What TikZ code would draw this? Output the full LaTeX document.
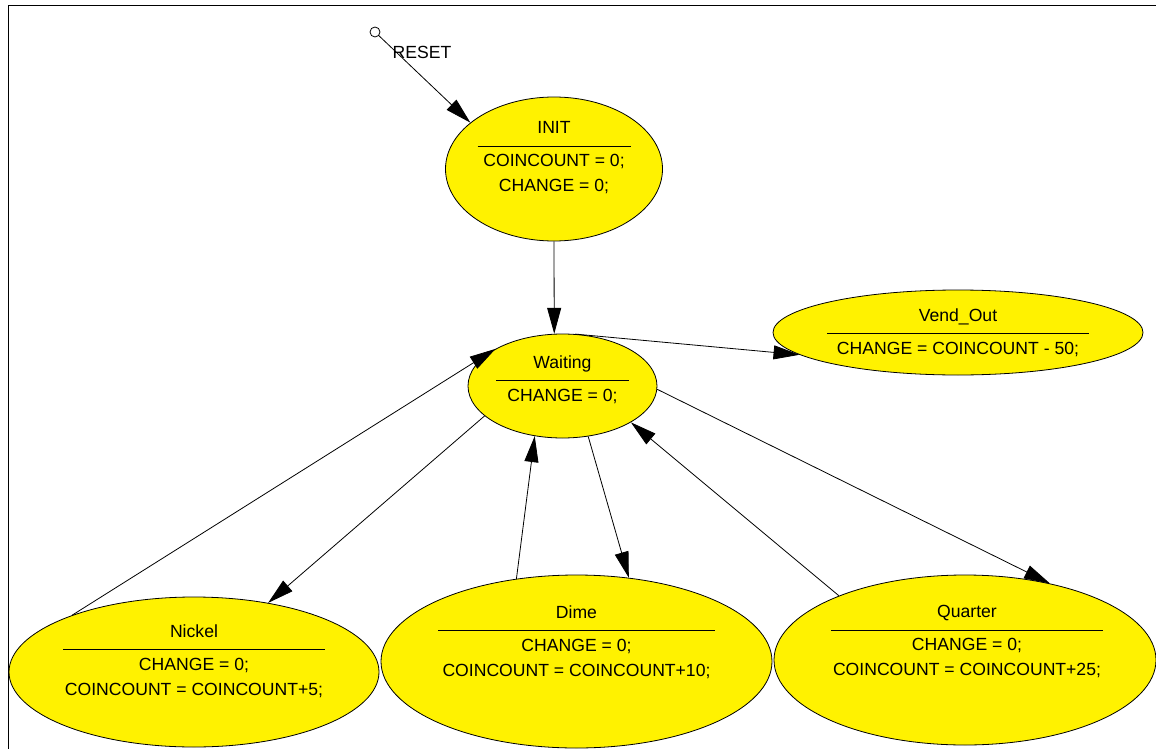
\documentclass[tikz,border=0pt]{standalone}
\usepackage{fontspec}
\setmainfont{Liberation Sans}
\usetikzlibrary{shapes.geometric,arrows.meta}

\tikzset{
  state/.style={ellipse, draw, thin, fill=yellow, inner sep=0pt},
  stext/.style={anchor=north, align=center, inner sep=0pt, font=\fontsize{8.8}{12.5}\selectfont},
  trans/.style={-{Triangle[length=13pt,width=7pt]}, thin}
}
\newcommand{\hsep}[1]{\rule{#1}{0.4pt}}

\begin{document}
\begin{tikzpicture}[x=0.5pt, y=-0.5pt]
  \useasboundingbox (0,0) rectangle (1156,749);
  % frame
  \draw[line width=0.9pt] (8.5,749) -- (8.5,5.5) -- (1156,5.5);
  % states
  \node[state, minimum width=108.5pt, minimum height=72pt] (init) at (554,169) {};
  \node[state, minimum width=94.5pt, minimum height=52pt] (waiting) at (562.5,386) {};
  \node[state, minimum width=185pt, minimum height=42.5pt] (vend) at (958,332.5) {};
  \node[state, minimum width=185pt, minimum height=75pt] (nickel) at (194,672) {};
  \node[state, minimum width=195.5pt, minimum height=86.5pt] (dime) at (576.5,661.5) {};
  \node[state, minimum width=191pt, minimum height=85pt] (quarter) at (965,660) {};
  % state texts
  \node[stext] (init-txt) at (554,121) {INIT\\[-6pt]\hsep{76.5pt}\\[-2.5pt]COINCOUNT = 0;\\CHANGE = 0;};
  \node[stext] (waiting-txt) at (562.5,355) {Waiting\\[-6pt]\hsep{66.5pt}\\[-2.5pt]CHANGE = 0;};
  \node[stext] (vend-txt) at (958,308) {Vend\_Out\\[-6pt]\hsep{131pt}\\[-2.5pt]CHANGE = COINCOUNT - 50;};
  \node[stext] (nickel-txt) at (194,624) {Nickel\\[-6pt]\hsep{131pt}\\[-2.5pt]CHANGE = 0;\\COINCOUNT = COINCOUNT+5;};
  \node[stext] (dime-txt) at (576.5,605) {Dime\\[-6pt]\hsep{138.5pt}\\[-2.5pt]CHANGE = 0;\\COINCOUNT = COINCOUNT+10;};
  \node[stext] (quarter-txt) at (967,605) {Quarter\\[-6pt]\hsep{136pt}\\[-2.5pt]CHANGE = 0;\\COINCOUNT = COINCOUNT+25;};
  % reset
  \node[draw, circle, inner sep=0pt, minimum size=5pt] (reset) at (375,32) {};
  \node[inner sep=0pt, font=\fontsize{8.8}{12.5}\selectfont] (reset-lbl) at (422,52) {RESET};
  \draw[trans] (reset) -- (init.151);
  % transitions
  \draw[trans] (init.south) -- (waiting.99);
  \draw[trans] (waiting.76) -- (vend.188);
  \draw[trans] (nickel.155) -- (waiting.151);
  \draw[trans] (waiting.201) -- (nickel.43);
  \draw[trans] (dime.126) -- (waiting.241);
  \draw[trans] (waiting.297) -- (dime.58);
  \draw[trans] (quarter.153) -- (waiting.332);
  \draw[trans] (waiting.358) -- (quarter.42);
\end{tikzpicture}
\end{document}
